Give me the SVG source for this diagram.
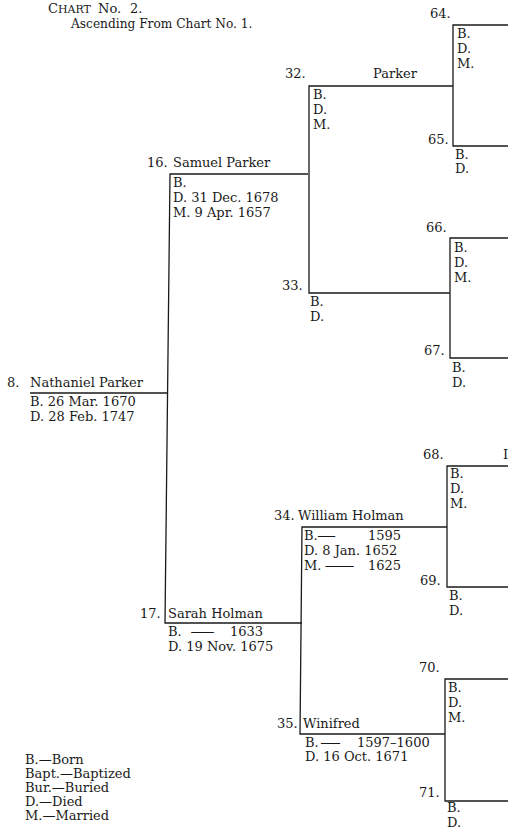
<svg xmlns="http://www.w3.org/2000/svg" width="508" height="828" viewBox="0 0 508 828">
<style>
text{font-family:"DejaVu Serif","Liberation Serif",serif;font-size:13px;fill:#1a1a1a}
.h{font-size:12.2px}
.sc{font-size:11px}
.ln{stroke:#1a1a1a;stroke-width:1.3;fill:none}
</style>
<rect width="508" height="828" fill="#fff"/>
<g id="header">
<text x="48" y="13">C<tspan class="sc">HART</tspan><tspan x="98">No.</tspan><tspan x="130">2.</tspan></text>
<text x="71" y="28" class="h">Ascending From Chart No. 1.</text>
</g>
<g id="connectors">
<path class="ln" d="M30,393H167"/>
<path class="ln" d="M308,174H170L165,623H302"/>
<path class="ln" d="M453,86H309V293H450"/>
<path class="ln" d="M508,25H453V146H508"/>
<path class="ln" d="M508,238H450V358H508"/>
<path class="ln" d="M447,527H302L300,734H445"/>
<path class="ln" d="M508,466H447V587H508"/>
<path class="ln" d="M508,679H445V801H508"/>
</g>
<g id="n8">
<text x="7" y="387">8.</text>
<text x="30" y="387">Nathaniel Parker</text>
<text x="30" y="406">B. 26 Mar. 1670</text>
<text x="30" y="421">D. 28 Feb. 1747</text>
</g>
<g id="n16">
<text x="147" y="167">16.</text>
<text x="173" y="167">Samuel Parker</text>
<text x="173" y="187">B.</text>
<text x="173" y="202">D. 31 Dec. 1678</text>
<text x="173" y="217">M. 9 Apr. 1657</text>
</g>
<g id="n17">
<text x="140" y="618">17.</text>
<text x="168" y="618">Sarah Holman</text>
<text x="168" y="636">B.<tspan x="190" textLength="25" lengthAdjust="spacingAndGlyphs">—</tspan><tspan x="230">1633</tspan></text>
<text x="168" y="651">D. 19 Nov. 1675</text>
</g>
<g id="n32">
<text x="285" y="78">32.</text>
<text x="373" y="78">Parker</text>
<text x="313" y="99">B.</text>
<text x="313" y="114">D.</text>
<text x="313" y="129">M.</text>
</g>
<g id="n33">
<text x="282" y="290">33.</text>
<text x="310" y="306">B.</text>
<text x="310" y="321">D.</text>
</g>
<g id="n34">
<text x="274" y="520">34.</text>
<text x="298" y="520">William Holman</text>
<text x="304" y="540">B.<tspan x="317" textLength="19" lengthAdjust="spacingAndGlyphs">—</tspan><tspan x="368">1595</tspan></text>
<text x="304" y="555">D. 8 Jan. 1652</text>
<text x="304" y="570">M.<tspan x="324" textLength="31" lengthAdjust="spacingAndGlyphs">—</tspan><tspan x="368">1625</tspan></text>
</g>
<g id="n35">
<text x="277" y="728">35.</text>
<text x="303" y="728">Winifred</text>
<text x="305" y="747">B.<tspan x="320" textLength="21" lengthAdjust="spacingAndGlyphs">—</tspan><tspan x="357">1597–1600</tspan></text>
<text x="305" y="761">D. 16 Oct. 1671</text>
</g>
<g id="n64">
<text x="430" y="18">64.</text>
<text x="457" y="38">B.</text>
<text x="457" y="53">D.</text>
<text x="457" y="68">M.</text>
</g>
<g id="n65">
<text x="428" y="144">65.</text>
<text x="455" y="159">B.</text>
<text x="455" y="173">D.</text>
</g>
<g id="n66">
<text x="426" y="232">66.</text>
<text x="454" y="252">B.</text>
<text x="454" y="267">D.</text>
<text x="454" y="282">M.</text>
</g>
<g id="n67">
<text x="424" y="355">67.</text>
<text x="452" y="372">B.</text>
<text x="452" y="387">D.</text>
</g>
<g id="n68">
<text x="423" y="459">68.</text>
<text x="503" y="459">I</text>
<text x="450" y="478">B.</text>
<text x="450" y="493">D.</text>
<text x="450" y="508">M.</text>
</g>
<g id="n69">
<text x="420" y="585">69.</text>
<text x="449" y="600">B.</text>
<text x="449" y="615">D.</text>
</g>
<g id="n70">
<text x="419" y="672">70.</text>
<text x="448" y="692">B.</text>
<text x="448" y="707">D.</text>
<text x="448" y="722">M.</text>
</g>
<g id="n71">
<text x="419" y="797">71.</text>
<text x="447" y="812" font-size="12.5">B.</text>
<text x="447" y="826.5" font-size="12.5">D.</text>
</g>
<g id="legend">
<text x="25" y="764">B.—Born</text>
<text x="25" y="778">Bapt.—Baptized</text>
<text x="25" y="792">Bur.—Buried</text>
<text x="25" y="806">D.—Died</text>
<text x="25" y="820">M.—Married</text>
</g>
</svg>
